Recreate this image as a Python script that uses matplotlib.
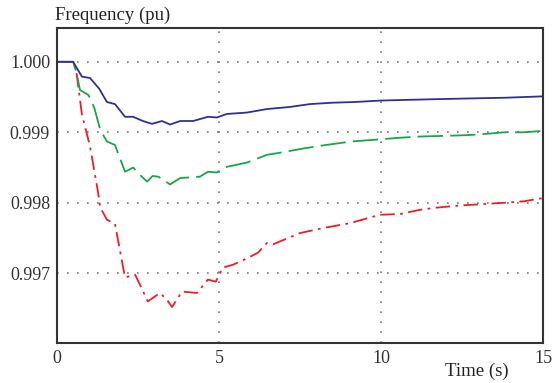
import matplotlib
matplotlib.use("Agg")
import matplotlib.pyplot as plt

# values
t_blue = [0, 0.5, 0.6, 0.77, 1.02, 1.3, 1.54, 1.79, 2.1, 2.35, 2.65, 2.93, 3.24, 3.49,
          3.8, 4.2, 4.66, 4.93, 5.24, 5.86, 6.48, 7.2, 7.8, 8.5, 9.2, 9.97, 10.8, 11.7,
          12.7, 13.8, 15]
f_blue = [1.0, 1.0, 0.99992, 0.99979, 0.99977, 0.99962, 0.99943, 0.9994, 0.99922, 0.99922,
          0.99916, 0.99912, 0.99916, 0.99911, 0.99916, 0.99916, 0.99922, 0.99921, 0.99926,
          0.99928, 0.99933, 0.99936, 0.9994, 0.99942, 0.99943, 0.99945, 0.99946, 0.99947,
          0.99948, 0.99949, 0.99951]

t_green = [0, 0.5, 0.6, 0.71, 0.97, 1.15, 1.33, 1.54, 1.79, 2.1, 2.35, 2.55, 2.78, 2.95,
           3.13, 3.3, 3.49, 3.8, 4.41, 4.66, 4.93, 5.24, 5.86, 6.48, 6.88, 7.6, 8.3, 9.1,
           9.97, 10.5, 11.2, 12.0, 12.7, 13.3, 13.8, 14.4, 15]
f_green = [1.0, 1.0, 0.99985, 0.9996, 0.99953, 0.99935, 0.99904, 0.99887, 0.99882, 0.99844,
           0.9985, 0.9984, 0.9983, 0.99838, 0.99837, 0.99832, 0.99826, 0.99835, 0.99837,
           0.99844, 0.99843, 0.99851, 0.99857, 0.99868, 0.99871, 0.99877, 0.99882, 0.99887,
           0.9989, 0.99892, 0.99894, 0.99895, 0.99896, 0.99898, 0.999, 0.999, 0.99902]

t_red = [0, 0.5, 0.6, 0.77, 1.02, 1.27, 1.33, 1.54, 1.79, 2.1, 2.41, 2.6, 2.8, 3.18, 3.4,
         3.55, 3.86, 4.32, 4.66, 4.9, 5.12, 5.43, 5.9, 6.2, 6.48, 6.67, 7.5, 8.2, 9.04,
         9.97, 10.6, 11.2, 11.7, 12.4, 13.1, 13.8, 14.4, 14.9, 15]
f_red = [1.0, 1.0, 0.99985, 0.99925, 0.9988, 0.99814, 0.99794, 0.99776, 0.9977, 0.99694,
         0.99698, 0.9968, 0.9966, 0.99672, 0.99662, 0.99652, 0.99674, 0.99672, 0.99691,
         0.99688, 0.99708, 0.99712, 0.99722, 0.99729, 0.99743, 0.99741, 0.99757, 0.99764,
         0.99771, 0.99783, 0.99784, 0.9979, 0.99793, 0.99796, 0.99798, 0.998, 0.99802,
         0.99806, 0.99806]

x_ticks = [0, 5, 10, 15]
y_ticks = [0.997, 0.998, 0.999, 1.000]
y_labels = ["0.997", "0.998", "0.999", "1.000"]

plt.rcParams['font.family'] = ['Liberation Serif', 'DejaVu Serif']

fig = plt.figure(figsize=(5.52, 3.83), dpi=100)
ax = fig.add_axes([57/552, 40/383, 486/552, 315/383])

ax.plot(t_red, f_red, color='#ee1c25', lw=1.3, dashes=(8, 3, 1.5, 3))
ax.plot(t_green, f_green, color='#18a64a', lw=1.3, dashes=(14, 4))
ax.plot(t_blue, f_blue, color='#2e3192', lw=1.3)

ax.set_xlim(0, 15)
ax.set_ylim(0.99601, 1.00048)
ax.set_xticks(x_ticks)
ax.set_yticks(y_ticks)
ax.set_yticklabels(y_labels)
ax.tick_params(length=0, labelsize=13, pad=5, colors='#333333')
ax.grid(True, color='#777777', linestyle=(0, (1, 5)), lw=1.2)
for s in ax.spines.values():
    s.set_linewidth(1.5)
    s.set_color('#333333')

fig.text(55/552, 1 - 15/383, "Frequency (pu)", fontsize=13.5, ha='left', va='center', color='#222222')
fig.text(477/552, 1 - 371/383, "Time (s)", fontsize=13.5, ha='center', va='center', color='#222222')

fig.savefig("out.png", dpi=100)
